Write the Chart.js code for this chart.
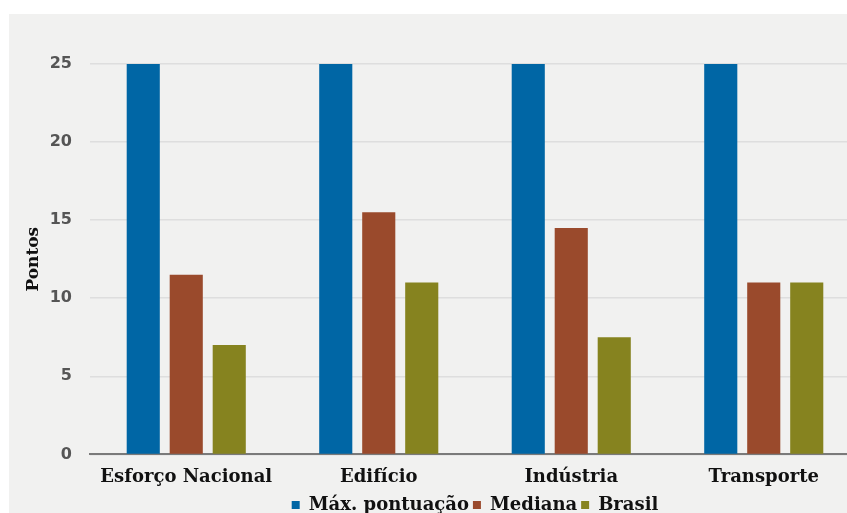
<!DOCTYPE html>
<html>
<head>
<meta charset="utf-8">
<script src="https://cdn.jsdelivr.net/npm/chart.js@4.4.1/dist/chart.umd.min.js"></script>
<style>
  html, body { margin: 0; padding: 0; background: #ffffff; }
  #panel {
    position: absolute; left: 9px; top: 14px;
    width: 838px; height: 499px;
    background: #f1f1f0; overflow: hidden;
  }
  #wrap { position: absolute; left: 0; top: 0; width: 855px; height: 510px; }
</style>
</head>
<body>
<div id="panel"><div id="wrap"><canvas id="pontosChart"></canvas></div></div>
<script>
// Categorias e séries
const categories = ['Esforço Nacional', 'Edifício', 'Indústria', 'Transporte'];
const maxPontuacao = [25, 25, 25, 25];
const mediana = [11.5, 15.5, 14.5, 11];
const brasil = [7, 11, 7.5, 11];
const yTicks = [0, 5, 10, 15, 20, 25];

const serif = '"DejaVu Serif", serif';
const sans = '"DejaVu Sans", sans-serif';

function createGroupedBarChart(id) {
  const ctx = document.getElementById(id);
  if (!ctx) return;

  return new Chart(ctx, {
    type: 'bar',
    data: {
      labels: categories,
      datasets: [
        { label: 'Máx. pontuação', data: maxPontuacao, backgroundColor: '#0066a5' },
        { label: 'Mediana', data: mediana, backgroundColor: '#9a4a2c' },
        { label: 'Brasil', data: brasil, backgroundColor: '#86831f' }
      ]
    },
    options: {
      responsive: true,
      maintainAspectRatio: false,
      animation: false,
      categoryPercentage: 0.67,
      barPercentage: 0.77,
      layout: { padding: { top: 50, left: 10, right: 4, bottom: 0 } },
      plugins: {
        tooltip: { enabled: false },
        legend: {
          position: 'bottom',
          fullSize: false,
          labels: {
            color: '#111111',
            font: { family: serif, size: 18, weight: 'bold' },
            boxWidth: 8,
            boxHeight: 8,
            padding: 4
          }
        }
      },
      scales: {
        x: {
          grid: { display: false },
          border: { display: true, color: '#7a7a7a', width: 2 },
          ticks: {
            color: '#111111',
            padding: 4,
            maxRotation: 0,
            font: { family: serif, size: 18, weight: 'bold' }
          },
          afterFit: (scale) => { scale.paddingLeft = 0; scale.paddingRight = 0; }
        },
        y: {
          min: 0,
          max: 25,
          afterBuildTicks: (axis) => { axis.ticks = yTicks.map(v => ({ value: v })); },
          // largura fixa do eixo para o gráfico começar em x=90
          afterFit: (scale) => { scale.width = 71; },
          grid: { color: '#dedede', lineWidth: 1.5, drawTicks: false },
          border: { display: false },
          ticks: {
            color: '#555555',
            padding: 18,
            font: { family: sans, size: 16, weight: 'bold' }
          },
          title: {
            display: true,
            text: 'Pontos',
            color: '#111111',
            padding: { top: 4, bottom: 8 },
            font: { family: serif, size: 17, weight: 'bold' }
          }
        }
      }
    }
  });
}

createGroupedBarChart('pontosChart');
</script>
</body>
</html>
